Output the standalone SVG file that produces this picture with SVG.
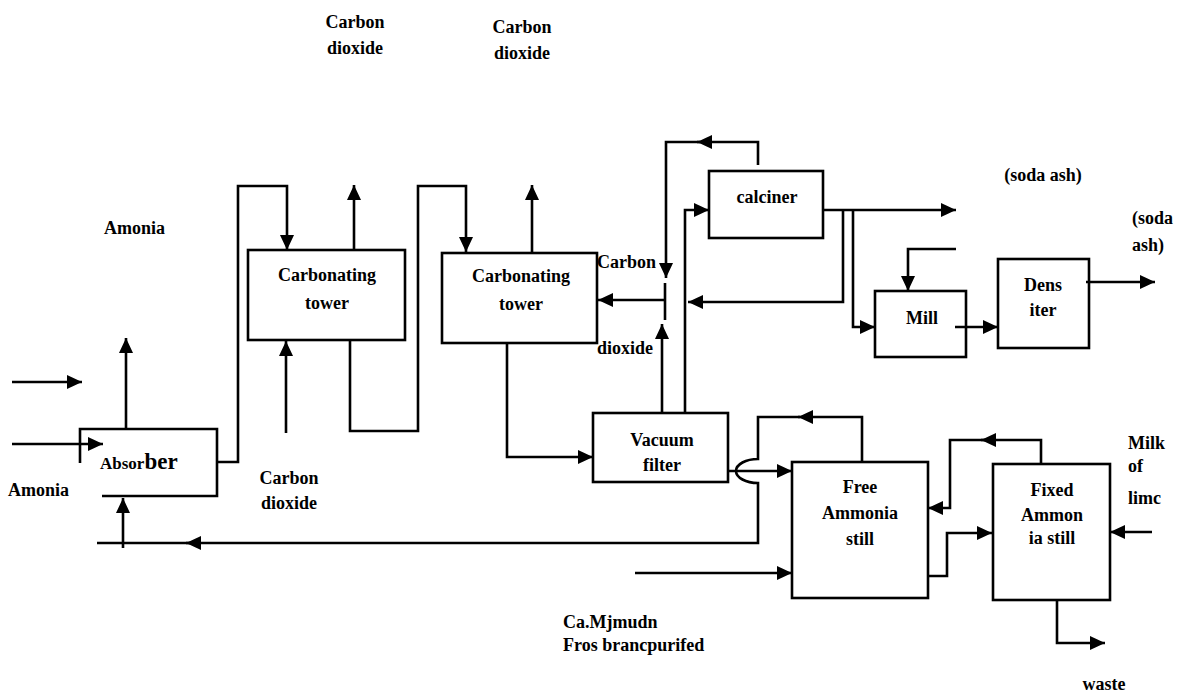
<svg xmlns="http://www.w3.org/2000/svg" width="1182" height="694" viewBox="0 0 1182 694">
<style>
.b{fill:none;stroke:#000;stroke-width:2.6}
.c{fill:none;stroke:#000;stroke-width:2.6;stroke-linejoin:miter}
.a{marker-end:url(#ah)}
text{font-family:'Liberation Serif','DejaVu Serif',serif;font-weight:700;font-size:18px;fill:#000}
.m{text-anchor:middle}
</style>
<defs>
<marker id="ah" markerUnits="userSpaceOnUse" markerWidth="16" markerHeight="14" refX="15" refY="7" orient="auto">
<path d="M0,0 L15,7 L0,14 z" fill="#000"/>
</marker>
</defs>
<rect width="1182" height="694" fill="#fff"/>

<g id="connectors">
<path class="c a" d="M126,429 V338"/>
<path class="c a" d="M12,382 H82"/>
<path class="c a" d="M12,444 H103"/>
<path class="c a" d="M217,462 H238 V186 H287 V250"/>
<path class="c a" d="M354,250 V185"/>
<path class="c a" d="M286,433 V341"/>
<path class="c a" d="M350,340 V431 H418 V186 H466 V252"/>
<path class="c a" d="M532,253 V185"/>
<path class="c a" d="M507,343 V457 H593"/>
<path class="c a" d="M662,413 V324"/>
<path class="c" d="M665,283 V320"/>
<path class="c a" d="M758,165 V142 H697"/>
<path class="c a" d="M700,142 H666 V278"/>
<path class="c a" d="M665,300 H598"/>
<path class="c a" d="M685,413 V210 H709"/>
<path class="c a" d="M823,210 H956"/>
<path class="c a" d="M843,210 V302 H688"/>
<path class="c a" d="M853,210 V327 H875"/>
<path class="c a" d="M956,249 H908 V291"/>
<path class="c a" d="M955,327 H998"/>
<path class="c a" d="M1086,282 H1155"/>
<path class="c a" d="M862,462 V417 H798"/>
<path class="c a" d="M800,417 H758 V459 A22,12 0 0 0 758,483 V543 H186"/>
<path class="c" d="M190,543 H97"/>
<path class="c a" d="M123,548 V498"/>
<path class="c a" d="M728,471 H792"/>
<path class="c a" d="M635,573 H792"/>
<path class="c a" d="M1041,463 V440 H981"/>
<path class="c a" d="M985,440 H950 V508 H928"/>
<path class="c a" d="M928,576 H947 V533 H992"/>
<path class="c a" d="M1152,532 H1110"/>
<path class="c a" d="M1057,600 V643 H1105"/>
</g>

<g id="absorber">
<path class="b" d="M80,463 V429 H217 V496 H102"/>
<text x="100" y="469"><tspan font-size="17">Absor</tspan><tspan font-size="23">ber</tspan></text>
</g>
<g id="tower1">
<rect class="b" x="248" y="250" width="157" height="90"/>
<text class="m" x="327" y="281">Carbonating</text>
<text class="m" x="327" y="309">tower</text>
</g>
<g id="tower2">
<rect class="b" x="442" y="253" width="155" height="90"/>
<text class="m" x="521" y="282">Carbonating</text>
<text class="m" x="521" y="310">tower</text>
</g>
<g id="vacuum">
<rect class="b" x="593" y="413" width="135" height="69"/>
<text class="m" x="662" y="446">Vacuum</text>
<text class="m" x="662" y="471">filter</text>
</g>
<g id="calciner">
<rect class="b" x="709" y="171" width="114" height="67"/>
<text class="m" x="767" y="203">calciner</text>
</g>
<g id="mill">
<rect class="b" x="875" y="291" width="91" height="66"/>
<text class="m" x="922" y="324">Mill</text>
</g>
<g id="densiter">
<rect class="b" x="998" y="259" width="91" height="89"/>
<text class="m" x="1043" y="291">Dens</text>
<text class="m" x="1043" y="316">iter</text>
</g>
<g id="free-ammonia">
<rect class="b" x="792" y="462" width="136" height="136"/>
<text class="m" x="860" y="493">Free</text>
<text class="m" x="860" y="519">Ammonia</text>
<text class="m" x="860" y="545">still</text>
</g>
<g id="fixed-ammonia">
<rect class="b" x="993" y="464" width="117" height="136"/>
<text class="m" x="1052" y="496">Fixed</text>
<text class="m" x="1052" y="521">Ammon</text>
<text class="m" x="1052" y="544">ia still</text>
</g>

<g id="labels">
<text class="m" x="355" y="28">Carbon</text>
<text class="m" x="355" y="54">dioxide</text>
<text class="m" x="522" y="33">Carbon</text>
<text class="m" x="522" y="59">dioxide</text>
<text x="104" y="234">Amonia</text>
<text x="8" y="496">Amonia</text>
<text class="m" x="289" y="484">Carbon</text>
<text class="m" x="289" y="509">dioxide</text>
<text x="597" y="268">Carbon</text>
<text x="597" y="354">dioxide</text>
<text class="m" x="1043" y="181">(soda ash)</text>
<text x="1132" y="224">(soda</text>
<text x="1132" y="251">ash)</text>
<text x="1128" y="449">Milk</text>
<text x="1128" y="472">of</text>
<text x="1128" y="504">limc</text>
<text x="563" y="628">Ca.Mjmudn</text>
<text x="563" y="651">Fros brancpurifed</text>
<text class="m" x="1104" y="690">waste</text>
</g>
</svg>
